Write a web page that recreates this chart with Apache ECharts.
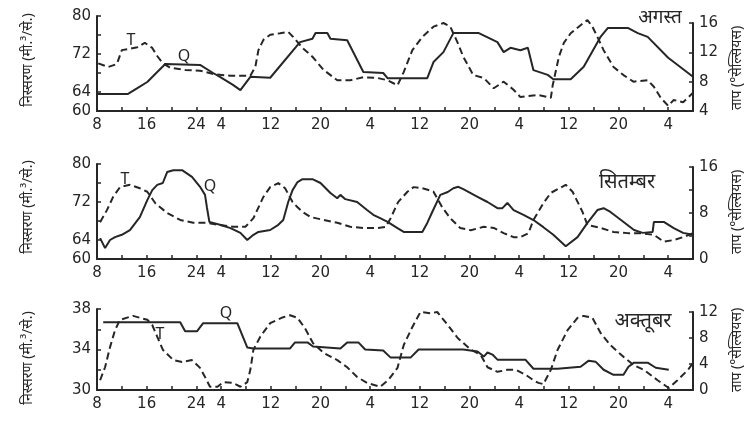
<!DOCTYPE html>
<html>
<head>
<meta charset="utf-8">
<script src="https://cdn.jsdelivr.net/npm/echarts@6/dist/echarts.min.js"></script>
<style>html,body{margin:0;padding:0;background:#fff}#c{width:750px;height:431px}</style>
</head>
<body>
<div id="c"></div>
<script>
// ---- Data (hour since start-of-day 0 of day 1, value) ----
var augQ = [[8,63.6],[13,63.6],[14.5,64.8],[16.1,66.1],[17.7,68.2],[19,69.9],[24.6,69.7],[26.7,68.0],[27.8,67.2],[29.9,65.5],[31.1,64.4],[32.7,67.2],[35.9,67.0],[40.7,74.5],[42.7,75.2],[43.2,76.4],[45.1,76.4],[45.6,75.2],[48.3,74.9],[50.9,68.2],[54.1,68.0],[54.8,66.9],[61.2,66.9],[62.2,70.3],[63.8,72.4],[65.4,76.4],[69.5,76.4],[72.5,74.5],[73.5,72.4],[74.6,73.3],[76.2,72.8],[77.4,73.3],[78.3,68.6],[80.6,67.6],[81.5,66.7],[84.3,66.7],[86.4,69.3],[89.1,75.6],[90.3,77.5],[93.5,77.5],[95.1,76.4],[96.7,75.6],[100,71.2],[100.9,70.3],[104,67.2]];
var augT = [[8.2,10.5],[9.8,10.0],[11.2,10.4],[12.0,12.3],[13.3,12.5],[14.5,12.7],[15.7,13.3],[16.9,12.6],[17.7,11.5],[18.6,10.5],[19.8,9.9],[22.2,9.6],[24.6,9.5],[27.0,9.0],[29.5,8.8],[32.7,8.8],[33.5,10.0],[34.0,12.3],[34.8,13.7],[35.9,14.4],[37.5,14.6],[38.8,14.8],[39.6,14.1],[41.1,12.6],[42.7,11.4],[44.5,9.6],[46.7,8.2],[48.8,8.2],[50.9,8.6],[53.2,8.5],[54.8,8.2],[56.4,7.5],[57.4,9.3],[58.8,12.3],[60.4,14.1],[62.2,15.5],[63.8,16.0],[64.9,15.5],[66.1,13.3],[67.0,11.4],[68.6,8.9],[70.3,8.5],[71.9,7.1],[73.5,8.0],[75.1,6.9],[76.2,5.9],[79.0,6.2],[81.1,5.8],[81.4,7.5],[82.4,11.4],[83.2,13.3],[84.3,14.6],[85.9,15.7],[87.0,16.4],[87.8,15.5],[88.6,14.1],[89.6,12.3],[91.2,10.0],[92.8,8.9],[94.4,8.0],[96.7,8.2],[97.7,7.3],[98.8,5.8],[100,4.7],[100.9,5.5],[102.4,5.2],[103.3,5.9],[104,6.5]];
var sepQ = [[8.5,64.4],[9.3,62.3],[10.1,64.0],[10.9,64.6],[12.0,65.1],[13.3,66.1],[14.9,68.8],[16.1,72.4],[16.9,74.5],[17.7,75.6],[18.6,76.0],[19.3,78.3],[20.3,78.7],[21.7,78.7],[23.3,77.3],[24.6,75.2],[25.4,73.5],[25.7,70.9],[26.1,67.8],[26.7,67.6],[27.8,67.2],[29.5,66.5],[31.1,65.5],[32.2,64.0],[33.2,65.1],[34.0,65.7],[35.9,66.1],[37.2,67.2],[38.0,68.2],[38.8,72.0],[39.5,74.5],[40.3,76.2],[41.1,76.8],[42.7,76.8],[44.0,76.0],[45.6,73.9],[46.7,72.8],[47.2,73.5],[48.0,72.6],[49.9,72.0],[51.5,70.3],[52.5,69.3],[53.6,68.6],[54.8,67.8],[56.4,66.5],[57.4,65.7],[60.4,65.7],[61.2,67.6],[62.0,69.9],[63.3,73.5],[64.5,74.1],[65.4,74.9],[66.2,75.2],[67.0,74.7],[69.3,73.1],[70.9,72.0],[72.5,70.7],[73.3,70.7],[74.1,71.8],[75.1,70.3],[76.7,69.3],[78.3,68.2],[79.9,66.7],[81.5,65.1],[83.5,62.7],[85.4,64.6],[87.0,67.6],[88.6,70.3],[89.6,70.7],[90.7,69.9],[92.4,68.2],[94.5,66.1],[95.9,65.5],[97.5,65.7],[97.7,67.8],[99.3,67.8],[100.9,66.5],[102.4,65.5],[104,65.1]];
var sepT = [[8.5,6.4],[9.6,8.5],[10.6,10.8],[11.7,12.5],[13.3,12.9],[14.9,12.3],[16.1,11.7],[17.4,9.7],[19.3,8.0],[21.4,6.8],[23.5,6.3],[25.7,6.3],[27.8,5.9],[29.9,5.6],[31.9,5.6],[33.2,7.1],[34.8,10.8],[35.9,12.5],[37.2,13.2],[38.3,12.3],[39.5,9.9],[40.3,9.0],[41.1,8.2],[42.4,7.3],[44.5,6.8],[46.7,6.3],[48.8,5.6],[50.9,5.4],[53.2,5.4],[54.5,5.6],[55.3,7.1],[56.5,9.9],[58.0,11.7],[59.0,12.5],[60.4,12.3],[61.4,12.0],[62.2,11.7],[63.6,9.0],[64.9,7.1],[66.5,5.4],[68.2,5.0],[70.3,5.6],[71.9,5.4],[73.5,4.5],[75.1,3.8],[76.2,3.8],[77.5,4.5],[78.3,6.8],[79.9,9.7],[81.1,11.5],[83.5,12.9],[84.6,11.7],[86.2,8.2],[87.0,5.9],[89.1,5.4],[91.2,4.7],[93.5,4.5],[95.3,4.5],[97.7,4.2],[99.3,3.0],[100.9,3.3],[102.4,3.8],[104,4.5]];
var octQ = [[9.0,36.7],[21.4,36.7],[22.2,35.8],[24.1,35.8],[25.1,36.6],[30.6,36.6],[32.2,34.2],[33.2,34.1],[39.1,34.1],[39.9,34.7],[41.9,34.7],[42.8,34.3],[47.2,34.1],[48.3,34.7],[50.1,34.7],[51.2,34.0],[54.1,33.9],[55.3,33.2],[58.5,33.2],[59.8,34.0],[67.0,34.0],[69.3,33.8],[70.3,33.3],[70.9,33.7],[71.7,33.5],[72.5,33.0],[77.0,33.0],[78.3,32.1],[82.2,32.1],[85.9,32.3],[87.2,32.9],[88.3,32.8],[89.6,32.0],[91.2,31.5],[92.8,31.5],[93.6,32.3],[94.5,32.7],[96.7,32.7],[98.0,32.2],[100.1,32.0]];
var octT = [[8.5,1.5],[9.3,3.5],[10.1,6.6],[10.9,9.2],[11.7,10.8],[13.8,11.4],[16.1,10.8],[16.9,10.0],[17.7,8.2],[18.6,6.2],[20.3,4.6],[21.7,4.3],[23.3,4.6],[24.6,3.4],[25.4,2.0],[26.2,0.5],[27.4,0.5],[28.3,1.2],[29.9,1.1],[31.1,0.5],[32.2,1.2],[32.7,3.1],[33.2,6.2],[34.3,8.2],[35.9,10.3],[38.0,11.2],[39.1,11.5],[40.3,11.1],[41.5,9.5],[42.8,7.2],[44.5,5.7],[46.7,4.6],[48.3,3.5],[49.9,2.0],[51.5,1.1],[53.6,0.5],[54.9,1.5],[56.4,3.4],[57.4,6.9],[58.8,9.7],[60.1,12.0],[61.7,11.8],[62.8,12.0],[64.5,10.0],[66.1,8.0],[68.2,6.2],[69.8,5.4],[70.9,3.5],[72.5,2.8],[74.1,3.1],[75.5,3.1],[77.1,2.3],[78.3,1.5],[79.1,1.1],[79.9,0.9],[81.1,3.1],[82.2,6.2],[83.8,9.2],[85.4,11.1],[86.4,11.4],[87.8,11.1],[89.1,8.8],[90.7,6.9],[92.8,5.1],[94.5,3.8],[96.1,3.1],[98.3,1.5],[100.1,0.3],[101.5,1.5],[103.2,3.1],[104.1,4.3]];

var months = ['अगस्त', 'सितम्बर', 'अक्तूबर'];
var qName = 'निस्सरण (मी.³/से.)';
var tName = 'ताप (°सेल्सियस)';
var xTickLabels = [8,16,24,28,36,44,52,60,68,76,84,92,100];
var qLabelSets = [[60,64,72,80],[60,64,72,80],[30,34,38]];
var tLabelSets = [[4,8,12,16],[0,8,16],[0,4,8,12]];

var INK = '#262626';
var FONT = 'DejaVu Sans';
var L = 97, R = 57;
var qGrids = [{top:16,h:95},{top:164,h:95},{top:309,h:81}];
var tGrids = [{top:23,h:88},{top:167,h:92},{top:312,h:78}];
var qAxes = [{min:60,max:80,iv:4},{min:60,max:80,iv:4},{min:30,max:38,iv:2}];
var tAxes = [{min:4,max:16,iv:4},{min:0,max:16,iv:4},{min:0,max:12,iv:4}];
var qData = [augQ, sepQ, octQ];
var tData = [augT, sepT, octT];

var grid = [], xAxis = [], yAxis = [], series = [];
for (var p = 0; p < 3; p++) {
  grid.push({left:L, right:R, top:qGrids[p].top, height:qGrids[p].h});
  grid.push({left:L, right:R, top:tGrids[p].top, height:tGrids[p].h});
  xAxis.push({
    type:'value', gridIndex:2*p, min:8, max:104, interval:4,
    axisLine:{show:true, lineStyle:{color:INK, width:2}},
    axisTick:{show:true, inside:true, length:4, lineStyle:{color:INK, width:1.5}},
    splitLine:{show:false},
    axisLabel:{color:INK, fontFamily:FONT, fontSize:15, margin:7,
      formatter:function(v){ if (xTickLabels.indexOf(v) < 0) return ''; var r = v % 24; return String(r === 0 ? 24 : r); }}
  });
  xAxis.push({type:'value', gridIndex:2*p+1, min:8, max:104, show:false});
  (function(p){
    yAxis.push({
      type:'value', gridIndex:2*p, position:'left', min:qAxes[p].min, max:qAxes[p].max, interval:qAxes[p].iv,
      axisLine:{show:true, lineStyle:{color:INK, width:2}},
      axisTick:{show:true, inside:true, length:4, lineStyle:{color:INK, width:1.5}},
      splitLine:{show:false},
      axisLabel:{color:INK, fontFamily:FONT, fontSize:15, margin:6,
        formatter:function(v){ return qLabelSets[p].indexOf(v) >= 0 ? String(v) : ''; }}
    });
    yAxis.push({
      type:'value', gridIndex:2*p+1, position:'right', min:tAxes[p].min, max:tAxes[p].max, interval:tAxes[p].iv,
      axisLine:{show:true, lineStyle:{color:INK, width:2}},
      axisTick:{show:true, inside:true, length:4, lineStyle:{color:INK, width:1.5}},
      splitLine:{show:false},
      axisLabel:{color:INK, fontFamily:FONT, fontSize:15, margin:6,
        formatter:function(v){ return tLabelSets[p].indexOf(v) >= 0 ? String(v) : ''; }}
    });
  })(p);
  series.push({type:'line', name:'Q', xAxisIndex:2*p, yAxisIndex:2*p, data:qData[p],
    showSymbol:false, clip:false, lineStyle:{color:INK, width:2}, silent:true});
  series.push({type:'line', name:'T', xAxisIndex:2*p+1, yAxisIndex:2*p+1, data:tData[p],
    showSymbol:false, clip:false, lineStyle:{color:INK, width:2, type:[7,4]}, silent:true});
}

function txt(x, y, s, size, rot, align) {
  return {type:'text', x:x, y:y, rotation:rot || 0,
    style:{text:s, fill:INK, font:(size||15)+'px "Noto Sans", "DejaVu Sans", sans-serif',
      textAlign:align || 'center', textVerticalAlign:'middle'}};
}
var graphics = [
  txt(660, 18, months[0], 19), txt(627, 182, months[1], 20), txt(643, 321, months[2], 20),
  txt(28, 60, qName, 14, Math.PI/2), txt(28, 207, qName, 14, Math.PI/2), txt(28, 358, qName, 14, Math.PI/2),
  txt(737, 68, tName, 14, Math.PI/2), txt(737, 212, tName, 14, Math.PI/2), txt(737, 350, tName, 14, Math.PI/2),
  txt(131, 40, 'T', 16), txt(184, 56, 'Q', 16),
  txt(125, 179, 'T', 16), txt(210, 186, 'Q', 16),
  txt(160, 334, 'T', 16), txt(226, 313, 'Q', 16)
];

var chart = echarts.init(document.getElementById('c'), null, {renderer:'canvas'});
chart.setOption({
  backgroundColor:'#fff', animation:false,
  grid:grid, xAxis:xAxis, yAxis:yAxis, series:series, graphic:graphics
});
</script>
</body>
</html>
